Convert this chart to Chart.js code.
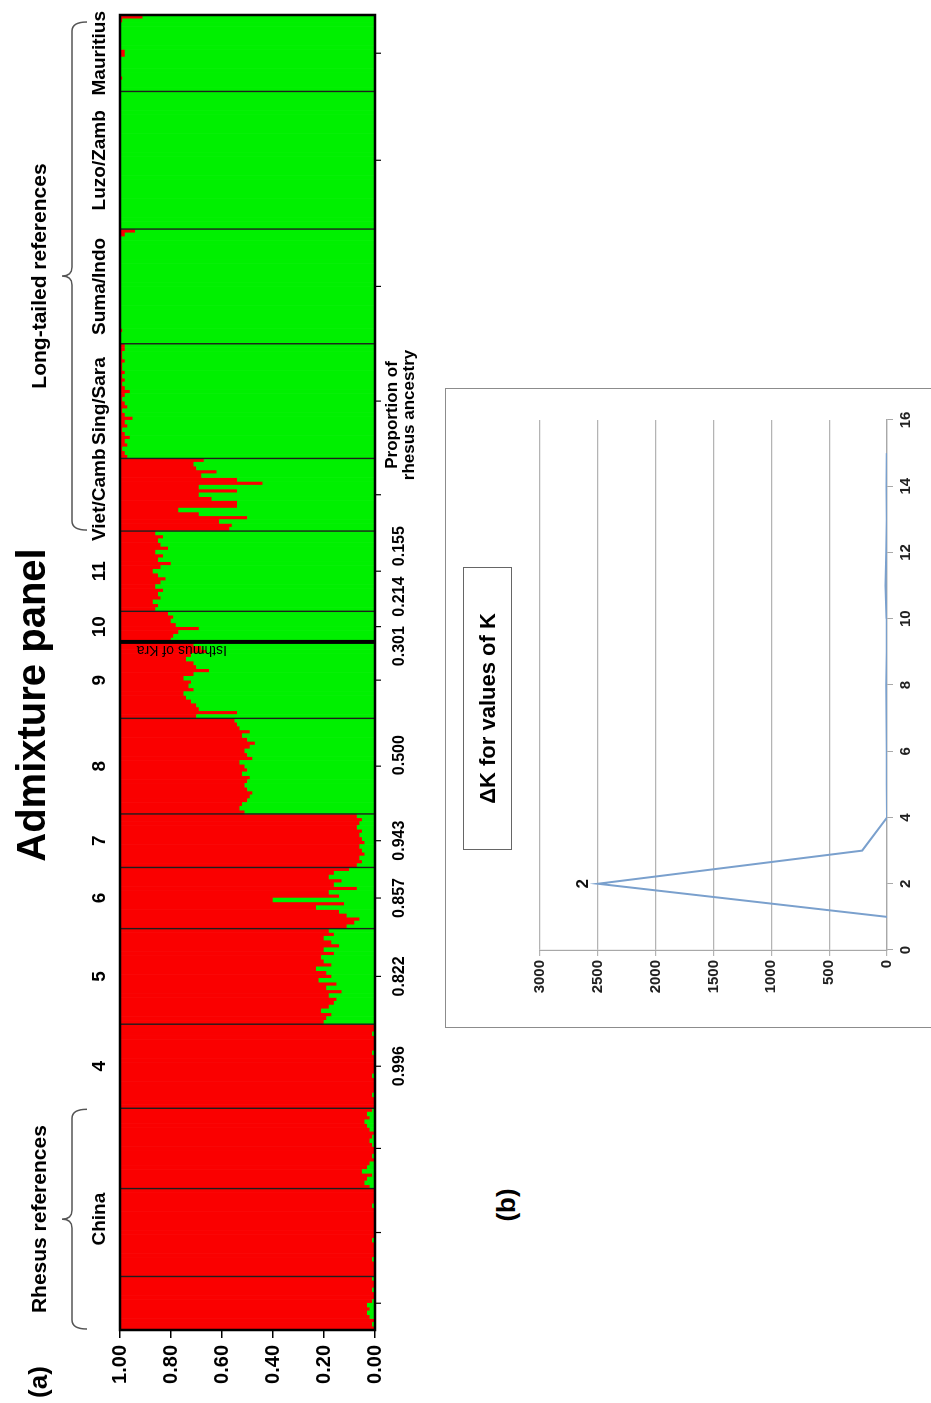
<!DOCTYPE html>
<html>
<head>
<meta charset="utf-8">
<script src="https://cdn.jsdelivr.net/npm/chart.js@4.4.1/dist/chart.umd.min.js"></script>
<style>
  html, body { margin: 0; padding: 0; background: #fff; width: 931px; height: 1403px; overflow: hidden; }
  #page {
    position: absolute; left: 0; top: 0; width: 1403px; height: 931px;
    transform-origin: 0 0; transform: translate(0, 1403px) rotate(-90deg);
    overflow: hidden; font-family: "Liberation Sans", Arial, sans-serif; color: #000;
  }
  .lbl { position: absolute; text-align: center; font-weight: bold; white-space: nowrap; }
  #admixChart { position: absolute; left: 0; top: 0; }
  #boxB { position: absolute; left: 375px; top: 445px; width: 640px; height: 540px; border: 1.5px solid #8c8c8c; box-sizing: border-box; }
  #deltaChart { position: absolute; left: 380px; top: 450px; }
  #dkTitle {
    position: absolute; left: 553px; top: 463px; width: 283px; height: 49px; box-sizing: border-box;
    border: 1px solid #666; font-weight: bold; font-size: 22px; line-height: 47px; text-align: center;
  }
</style>
</head>
<body>
<div id="page">
  <canvas id="admixChart" width="1403" height="440"></canvas>
  <div class="lbl" style="left:498px; width:400px; top:8px; font-size:40px; line-height:46px;">Admixture panel</div>
  <div class="lbl" style="left:0; width:42px; top:23px; font-size:26px; line-height:30px;">(a)</div>
  <div class="lbl" style="left:918px; width:140px; top:383px; font-size:17px; line-height:17px;">Proportion of<br>rhesus ancestry</div>
  <div id="boxB"></div>
  <canvas id="deltaChart" width="630" height="475"></canvas>
  <div id="dkTitle">ΔK for values of K</div>
  <div class="lbl" style="left:178px; width:40px; top:491px; font-size:26px; line-height:30px;">(b)</div>
</div>
<script>
// proportion of rhesus ancestry per individual (red share), left to right
const chinaA = [1, 0.99, 1, 0.98, 0.97, 0.98, 0.97, 0.99, 1, 1, 0.99, 1, 1, 0.99];
const chinaB = [1, 1, 1, 1, 0.99, 1, 1, 1, 1, 0.99, 1, 1, 1, 1, 1, 1, 1, 1, 0.99, 1, 1, 1, 1];
const chinaC = [0.98, 0.96, 0.97, 0.99, 0.95, 0.97, 0.98, 1, 0.99, 1, 1, 0.99, 0.98, 0.99, 1, 0.98, 0.97, 0.96, 0.98, 0.97, 0.99];
const pop4 = [1, 1, 1, 0.99, 1, 1, 1, 1, 0.99, 1, 1, 1, 1, 1, 0.99, 1, 1, 1, 1, 0.99, 1, 1];
const pop5 = [0.80, 0.81, 0.83, 0.79, 0.82, 0.84, 0.85, 0.82, 0.87, 0.81, 0.85, 0.78, 0.83, 0.81, 0.77, 0.83, 0.80, 0.79, 0.84, 0.80, 0.86, 0.83, 0.80, 0.84, 0.82];
const pop6 = [0.89, 0.92, 0.94, 0.89, 0.86, 0.77, 0.88, 0.60, 0.86, 0.82, 0.93, 0.84, 0.87, 0.82, 0.84, 0.90];
const pop7 = [0.93, 0.95, 0.94, 0.96, 0.95, 0.94, 0.96, 0.95, 0.94, 0.95, 0.93, 0.94, 0.95, 0.93];
const pop8 = [0.49, 0.47, 0.48, 0.50, 0.51, 0.52, 0.50, 0.49, 0.50, 0.51, 0.48, 0.50, 0.49, 0.47, 0.52, 0.50, 0.49, 0.51, 0.53, 0.50, 0.48, 0.51, 0.47, 0.46, 0.45];
const pop9 = [0.30, 0.46, 0.31, 0.30, 0.28, 0.26, 0.25, 0.29, 0.27, 0.28, 0.25, 0.29, 0.35, 0.30, 0.29, 0.26, 0.28, 0.34, 0.32, 0.29];
const pop10 = [0.20, 0.21, 0.23, 0.31, 0.22, 0.20, 0.21, 0.19];
const pop11 = [0.14, 0.15, 0.13, 0.16, 0.15, 0.17, 0.14, 0.16, 0.18, 0.15, 0.13, 0.16, 0.20, 0.15, 0.17, 0.14, 0.19, 0.16, 0.15, 0.17, 0.14];
const vietCamb = [0.43, 0.44, 0.39, 0.50, 0.31, 0.23, 0.46, 0.46, 0.36, 0.31, 0.46, 0.31, 0.56, 0.46, 0.32, 0.38, 0.30, 0.29, 0.33];
const singSara = [0.03, 0.02, 0.01, 0.03, 0.02, 0.04, 0.02, 0.01, 0.03, 0.02, 0.05, 0.02, 0.01, 0.03, 0.02, 0.01, 0.02, 0.04, 0.02, 0.01, 0.02, 0.01, 0.02, 0.01, 0.01, 0.02, 0.01, 0.01, 0.02, 0.02];
const sumaIndo = [0, 0, 0, 0.01, 0, 0, 0, 0, 0, 0, 0, 0, 0, 0, 0, 0, 0, 0, 0, 0, 0, 0, 0, 0, 0, 0, 0, 0, 0.02, 0.06];
const luzoZamb = [0, 0, 0, 0, 0, 0, 0, 0, 0, 0, 0, 0, 0, 0, 0, 0, 0, 0, 0, 0, 0, 0, 0, 0, 0, 0, 0, 0, 0, 0, 0, 0, 0, 0, 0, 0];
const mauritius = [0, 0, 0, 0.01, 0, 0, 0, 0, 0, 0.02, 0.02, 0, 0, 0, 0, 0, 0, 0, 0.01, 0.09];

// sampling blocks in plot order: [group label, individuals]
const blocks = [
  ["China", chinaA], ["China", chinaB], ["China", chinaC],
  ["4", pop4], ["5", pop5], ["6", pop6], ["7", pop7], ["8", pop8], ["9", pop9],
  ["10", pop10], ["11", pop11], ["Viet/Camb", vietCamb], ["Sing/Sara", singSara],
  ["Suma/Indo", sumaIndo], ["Luzo/Zamb", luzoZamb], ["Mauritius", mauritius]
];

const shareGroups = ["4", "5", "6", "7", "8", "9", "10", "11"];
const shareValues = ["0.996", "0.822", "0.857", "0.943", "0.500", "0.301", "0.214", "0.155"];
const isthmusAfter = "9";
const braces = [["Rhesus references", "China", "China"], ["Long-tailed references", "Viet/Camb", "Mauritius"]];

// delta K by K
const kValues = [1, 2, 3, 4, 5, 6, 7, 8, 9, 10, 11, 12, 13, 14, 15];
const deltaK = [0, 2500, 215, 0, 2, 3, 4, 7, 3, 4, 12, 6, 3, 4, 2];

const rhesus = blocks.flatMap(b => b[1]);
const other = rhesus.map(r => +(1 - r).toFixed(3));
const FONT = '"Liberation Sans", Arial, sans-serif';

function groupSpans() {
  const spans = [];
  let start = 0;
  blocks.forEach(([g, vals]) => {
    const last = spans[spans.length - 1];
    if (last && last.group === g) last.to = start + vals.length;
    else spans.push({ group: g, from: start, to: start + vals.length });
    start += vals.length;
  });
  return spans;
}

function brace(ctx, u1, u2, vLine, vEnd, vTip) {
  const m = (u1 + u2) / 2, c = 9;
  ctx.beginPath();
  ctx.moveTo(u1, vEnd);
  ctx.quadraticCurveTo(u1, vLine, u1 + c, vLine);
  ctx.lineTo(m - c, vLine);
  ctx.quadraticCurveTo(m, vLine, m, vTip);
  ctx.quadraticCurveTo(m, vLine, m + c, vLine);
  ctx.lineTo(u2 - c, vLine);
  ctx.quadraticCurveTo(u2, vLine, u2, vEnd);
  ctx.stroke();
}

const admixDecor = {
  id: "admixDecor",
  afterDatasetsDraw(chart, args, opts) {
    const { ctx, chartArea: a } = chart;
    const w = (a.right - a.left) / rhesus.length;
    const edge = i => a.left + i * w;
    const spans = groupSpans();
    ctx.save();

    // block boundaries and centre ticks
    let start = 0;
    blocks.forEach(([g, vals], bi) => {
      const end = start + vals.length;
      const mid = edge((start + end) / 2);
      ctx.strokeStyle = "#000";
      ctx.lineWidth = 1.2;
      ctx.beginPath();
      ctx.moveTo(mid, a.bottom);
      ctx.lineTo(mid, a.bottom + 6);
      ctx.stroke();
      if (bi < blocks.length - 1) {
        const thick = g === isthmusAfter;
        ctx.strokeStyle = thick ? "#000" : "#1e1e1e";
        ctx.lineWidth = thick ? 4 : 1.4;
        ctx.beginPath();
        ctx.moveTo(edge(end), a.top);
        ctx.lineTo(edge(end), a.bottom);
        ctx.stroke();
        if (thick) {
          ctx.save();
          ctx.translate(edge(end) - 4, a.top + 107);
          ctx.rotate(-Math.PI / 2);
          ctx.fillStyle = "#000";
          ctx.font = "14px " + FONT;
          ctx.textAlign = "left";
          ctx.textBaseline = "alphabetic";
          ctx.fillText("Isthmus of Kra", 0, 0);
          ctx.restore();
        }
      }
      start = end;
    });

    // frame
    ctx.strokeStyle = "#000";
    ctx.lineWidth = 2.5;
    ctx.strokeRect(a.left, a.top, a.right - a.left, a.bottom - a.top);

    // group names above, rhesus share below
    ctx.fillStyle = "#000";
    ctx.textAlign = "center";
    ctx.textBaseline = "middle";
    spans.forEach(s => {
      const mid = edge((s.from + s.to) / 2);
      ctx.font = "bold 19px " + FONT;
      ctx.fillText(s.group, mid, a.top - 20);
      const k = shareGroups.indexOf(s.group);
      if (k >= 0) {
        ctx.font = "bold 16px " + FONT;
        ctx.fillText(shareValues[k], mid + (opts.nudge[s.group] || 0), a.bottom + 25);
      }
    });

    // reference braces
    braces.forEach(([label, g1, g2]) => {
      const s1 = spans.find(s => s.group === g1), s2 = spans.find(s => s.group === g2);
      const u1 = edge(s1.from) + 1, u2 = edge(s2.to) - (g2 === "Mauritius" ? 7 : 1);
      ctx.strokeStyle = "#555";
      ctx.lineWidth = 1.5;
      brace(ctx, u1, u2, a.top - 48, a.top - 33, a.top - 58);
      ctx.font = "bold 21px " + FONT;
      ctx.fillText(label, (u1 + u2) / 2, a.top - 80);
    });
    ctx.restore();
  }
};

new Chart(document.getElementById("admixChart"), {
  type: "bar",
  data: {
    labels: rhesus.map((_, i) => String(i + 1)),
    datasets: [
      { label: "long-tailed", data: other, backgroundColor: "#00f000", borderWidth: 0, barPercentage: 1, categoryPercentage: 1 },
      { label: "rhesus", data: rhesus, backgroundColor: "#fa0000", borderWidth: 0, barPercentage: 1, categoryPercentage: 1 }
    ]
  },
  options: {
    responsive: false,
    animation: false,
    layout: { padding: { top: 120, right: 15, bottom: 65, left: 0 } },
    plugins: { legend: { display: false }, tooltip: { enabled: false }, admixDecor: { nudge: { "8": 11, "9": 34, "10": 30, "11": 25 } } },
    scales: {
      x: { stacked: true, display: false },
      y: {
        stacked: true, min: 0, max: 1,
        afterFit: s => { s.width = 73; },
        border: { display: false },
        grid: { drawOnChartArea: false, drawTicks: true, tickLength: 8, color: "#000", lineWidth: 1.5 },
        ticks: { stepSize: 0.2, padding: 7, color: "#000", font: { family: FONT, size: 20, weight: "bold" }, callback: v => v.toFixed(2) }
      }
    }
  },
  plugins: [admixDecor]
});

const peakLabel = {
  id: "peakLabel",
  afterDatasetsDraw(chart) {
    const { ctx, scales: { x, y } } = chart;
    const i = deltaK.indexOf(Math.max(...deltaK));
    ctx.save();
    ctx.fillStyle = "#111";
    ctx.font = "bold 17px " + FONT;
    ctx.textAlign = "center";
    ctx.textBaseline = "middle";
    ctx.fillText(String(kValues[i]), x.getPixelForValue(kValues[i]), y.getPixelForValue(deltaK[i]) - 15);
    ctx.restore();
  }
};

new Chart(document.getElementById("deltaChart"), {
  type: "line",
  data: {
    datasets: [{
      label: "ΔK",
      data: kValues.map((k, i) => ({ x: k, y: deltaK[i] })),
      borderColor: "#7aa0cd", borderWidth: 2, pointRadius: 0, tension: 0, fill: false
    }]
  },
  options: {
    responsive: false,
    animation: false,
    layout: { padding: { top: 90, right: 27, bottom: 0, left: 0 } },
    plugins: { legend: { display: false }, tooltip: { enabled: false } },
    scales: {
      x: {
        type: "linear", min: 0, max: 16,
        afterFit: s => { s.height = 38; },
        border: { display: true, color: "#a8a8a8", width: 1.2 },
        grid: { drawOnChartArea: false, drawTicks: true, tickLength: 6, color: "#a8a8a8" },
        ticks: { stepSize: 2, padding: 4, color: "#222", font: { family: FONT, size: 15, weight: "bold" }, callback: v => String(v) }
      },
      y: {
        min: 0, max: 3000,
        afterFit: s => { s.width = 73; },
        border: { display: true, color: "#a8a8a8", width: 1.2 },
        grid: { drawTicks: true, tickLength: 6, color: "#b4b4b4", lineWidth: 1.2 },
        ticks: { stepSize: 500, padding: 4, color: "#222", font: { family: FONT, size: 15, weight: "bold" }, callback: v => String(v) }
      }
    }
  },
  plugins: [peakLabel]
});
</script>
</body>
</html>
